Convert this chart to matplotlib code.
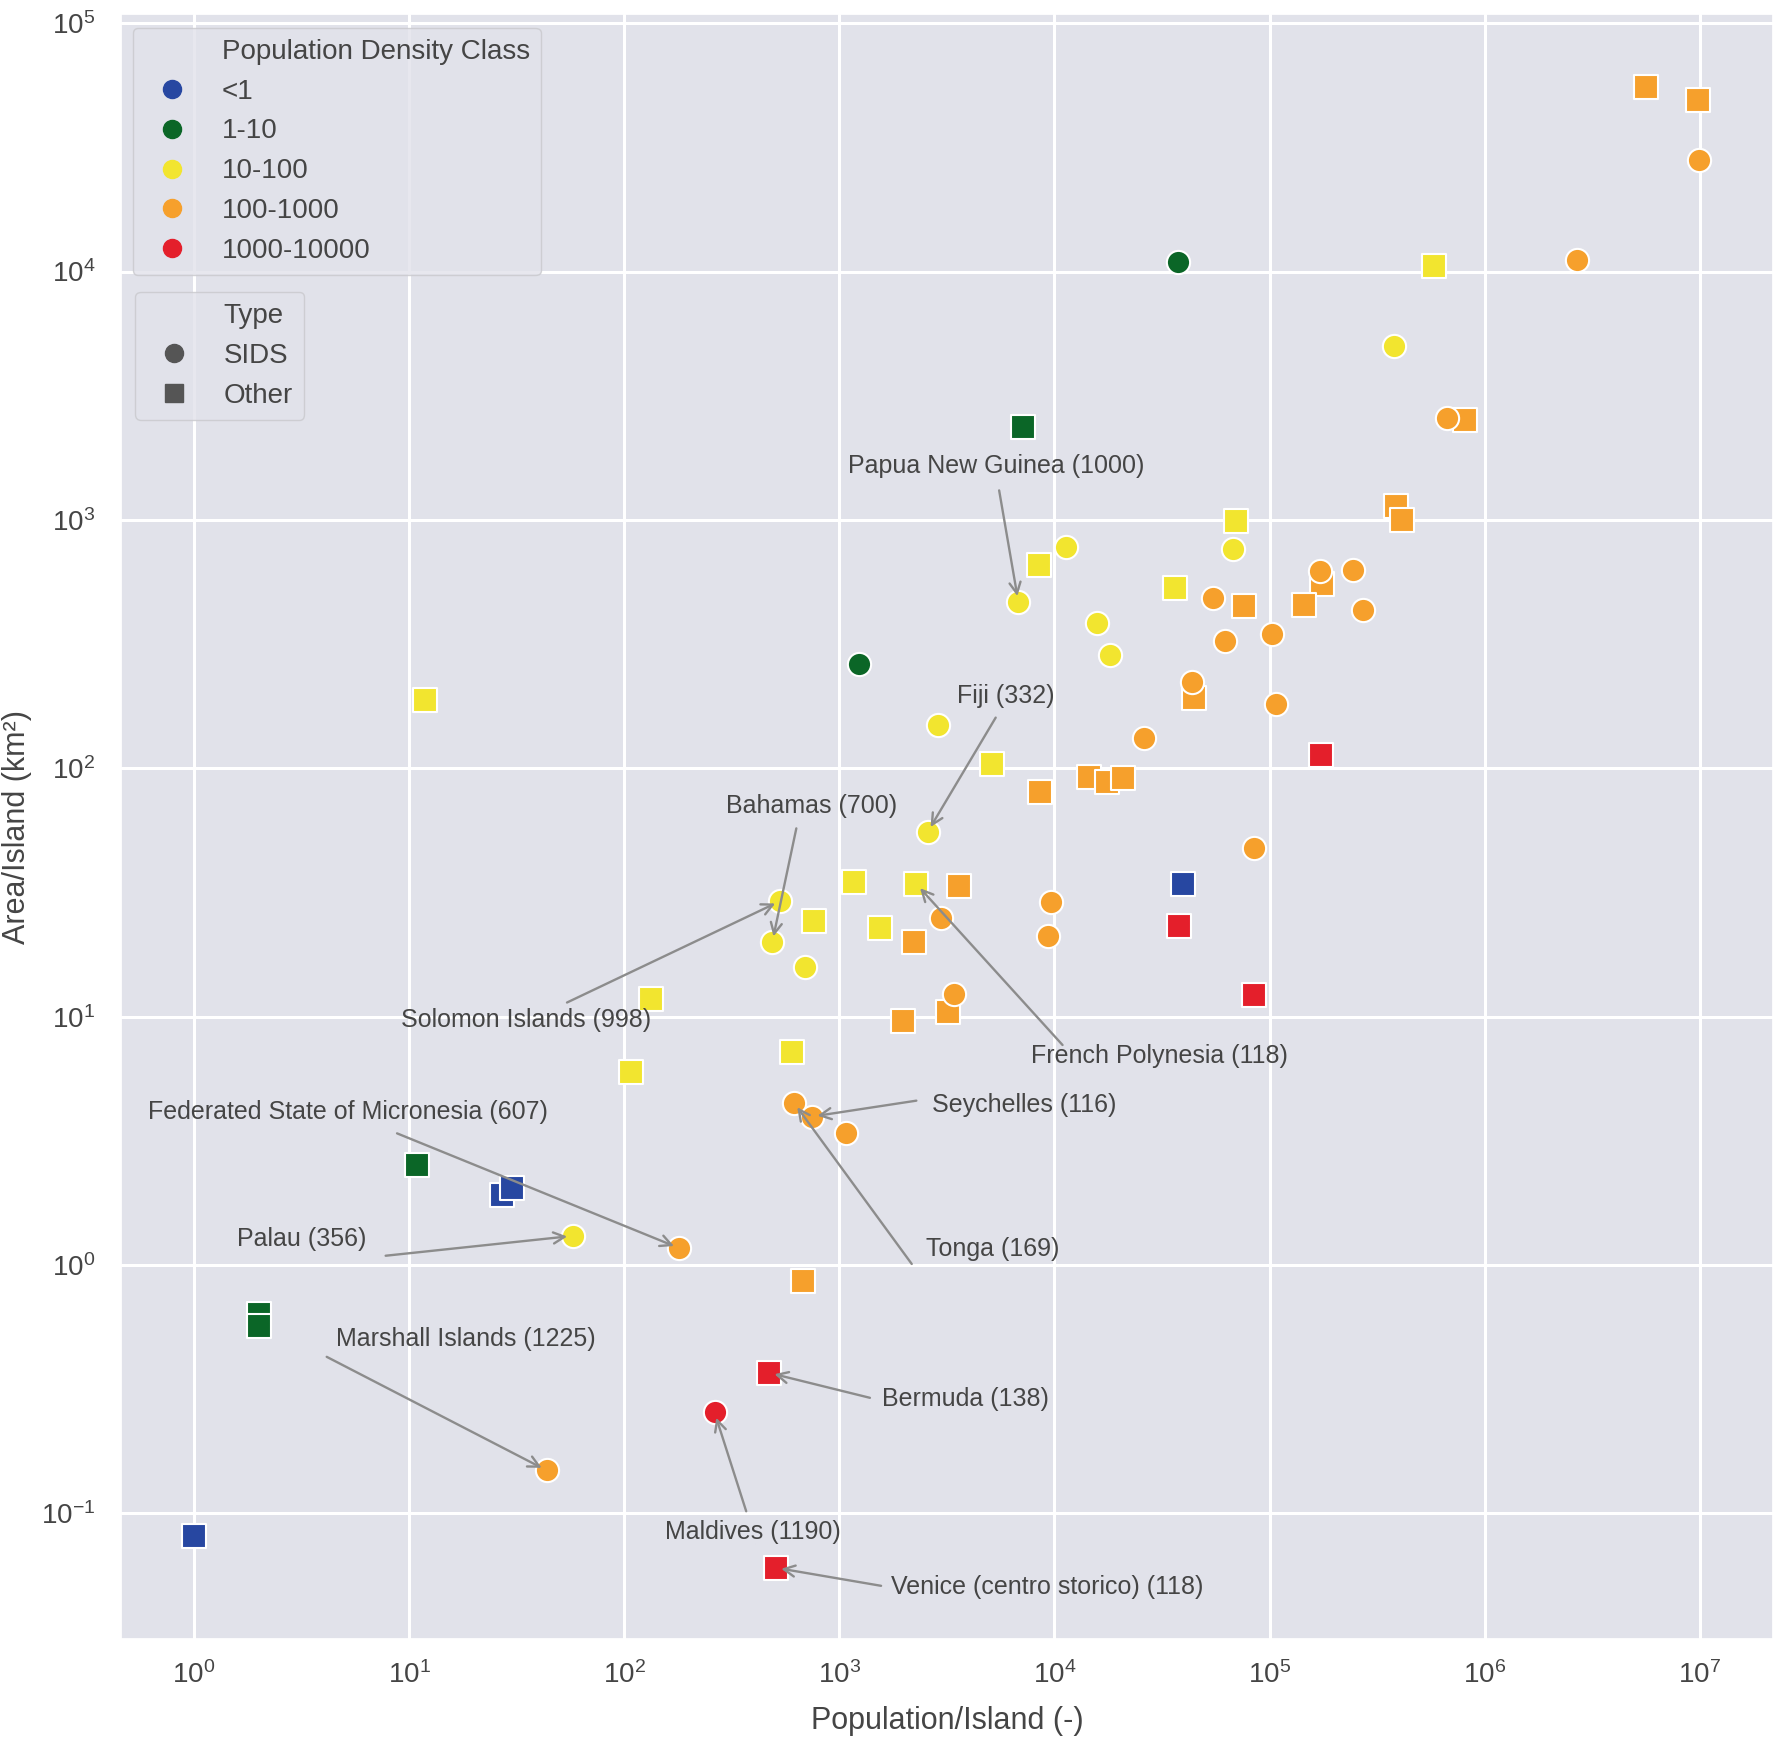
import matplotlib
matplotlib.use("Agg")
import matplotlib.pyplot as plt
import seaborn as sns
from matplotlib.lines import Line2D
from matplotlib.ticker import NullLocator

sns.set_theme(style="darkgrid")
plt.rcParams['font.family'] = ['Liberation Sans', 'DejaVu Sans']
txt_col = '#454545'
bg_col = '#e1e2ea'
plt.rcParams['text.color'] = txt_col
plt.rcParams['axes.labelcolor'] = txt_col
plt.rcParams['xtick.color'] = txt_col
plt.rcParams['ytick.color'] = txt_col

# population per island, area per island (km2), density class, type
pop = [1, 27, 30, 39500,
       37700, 7130, 1228, 10.9, 2.0, 2.0,
       11.9, 133, 107, 600, 765, 1170, 1546, 2279, 5140, 8450, 36300, 69900, 578000,
       57.6, 531, 488, 694, 2575, 2870, 6790, 11320, 15700, 18160, 67400, 377000,
       5.59e6, 9.78e6, 811000, 387000, 411000, 176000, 145000, 76100, 44600, 14400,
       17500, 20800, 8560, 3615, 2224, 3200, 1972, 677,
       9.89e6, 2.67e6, 668000, 172000, 244000, 272000, 54800, 61900, 103000, 43500,
       107000, 26200, 84900, 9670, 9310, 2980, 3404, 615, 746, 1075, 180, 43.6,
       174000, 38100, 84900, 471, 506, 263]
area = [0.081, 1.92, 2.05, 34.2,
        10880, 2366, 263, 2.52, 0.637, 0.566,
        188, 11.8, 5.97, 7.2, 24.2, 34.9, 22.7, 34.2, 104, 656, 532, 988, 10540,
        1.31, 29.2, 20.0, 15.9, 55.5, 149, 469, 776, 384, 286, 761, 5000,
        55500, 48900, 2523, 1135, 1000, 554, 455, 450, 192, 91.9,
        88, 91, 80.2, 33.5, 20, 10.4, 9.6, 0.863,
        28000, 11100, 2577, 624, 630, 435, 484, 324, 346, 222,
        182, 132, 47.9, 28.9, 21.1, 24.9, 12.3, 4.5, 3.96, 3.39, 1.17, 0.149,
        113, 23.2, 12.2, 0.368, 0.0604, 0.255]
dens = (['<1'] * 4 + ['1-10'] * 6 + ['10-100'] * 25 + ['100-1000'] * 40
        + ['1000-10000'] * 6)
kind = (['Other'] * 4
        + ['SIDS', 'Other', 'SIDS', 'Other', 'Other', 'Other']
        + ['Other'] * 13 + ['SIDS'] * 12
        + ['Other'] * 18 + ['SIDS'] * 22
        + ['Other'] * 5 + ['SIDS'])

classes = ['<1', '1-10', '10-100', '100-1000', '1000-10000']
class_colors = ['#2747a1', '#0b6627', '#f2e52f', '#f6a02c', '#e41f2b']
types = ['SIDS', 'Other']
type_markers = ['o', 's']

# annotations: label, index of annotated point, text centre, arrow start (data coords)
ann_labels = ['Papua New Guinea (1000)', 'Fiji (332)', 'Bahamas (700)',
              'Solomon Islands (998)', 'French Polynesia (118)', 'Seychelles (116)',
              'Tonga (169)', 'Federated State of Micronesia (607)', 'Palau (356)',
              'Marshall Islands (1225)', 'Bermuda (138)', 'Maldives (1190)',
              'Venice (centro storico) (118)']
ann_idx = [29, 27, 25, 24, 17, 71, 70, 73, 23, 74, 78, 80, 79]
ann_tx = [5330, 5950, 746, 35, 30600, 7220, 5140, 5.21, 3.17, 18.4, 3845, 397, 9200]
ann_ty = [1656, 196, 70.6, 9.68, 6.92, 4.41, 1.16, 4.13, 1.27, 0.505, 0.289, 0.0845, 0.0505]
arr_x = [5530, 5330, 631, 54.2, 10900, 2280, 2170, 8.79, 7.78, 4.14, 1387, 369, 1563]
arr_y = [1315, 160, 57.3, 11.4, 7.69, 4.59, 1.01, 3.39, 1.09, 0.427, 0.292, 0.102, 0.0511]

col_of = dict(zip(classes, class_colors))
mk_of = dict(zip(types, type_markers))

fig = plt.figure(figsize=(17.75, 17.37), dpi=100)
ax = fig.add_axes([0.0684, 0.0562, 0.9303, 0.9358])
ax.set_facecolor(bg_col)
ax.set_xscale('log')
ax.set_yscale('log')

for x, y, d, k in zip(pop, area, dens, kind):
    ax.scatter([x], [y], s=280, c=col_of[d], marker=mk_of[k],
               edgecolors='white', linewidths=1.5, zorder=3)

for lab, i, tx, ty, sx, sy in zip(ann_labels, ann_idx, ann_tx, ann_ty, arr_x, arr_y):
    ax.text(tx, ty, lab, ha='center', va='center', fontsize=18, color=txt_col, zorder=4)
    ax.annotate('', xy=(pop[i], area[i]), xytext=(sx, sy), textcoords='data', zorder=4,
                arrowprops=dict(arrowstyle='->', color='#8c8c8c', lw=1.7,
                                shrinkA=0, shrinkB=4, mutation_scale=20))

ax.set_xlim(0.46, 2.18e7)
ax.set_ylim(0.0311, 1.09e5)
ax.xaxis.set_minor_locator(NullLocator())
ax.yaxis.set_minor_locator(NullLocator())
ax.grid(True, which='major', color='white', linewidth=2.2)
ax.tick_params(axis='both', which='both', length=0, labelsize=20)
ax.tick_params(axis='x', pad=16)
ax.tick_params(axis='y', pad=19)
ax.set_xlabel('Population/Island (-)', fontsize=22, labelpad=12)
ax.set_ylabel('Area/Island (km²)', fontsize=22, labelpad=6)

h1 = [Line2D([], [], linestyle='none', marker='')]
h1 += [Line2D([], [], linestyle='none', marker='o', markersize=13,
              markerfacecolor=c, markeredgecolor=c) for c in class_colors]
leg1 = ax.legend(h1, ['Population Density Class'] + classes, loc='upper left',
                 bbox_to_anchor=(0.0069, 0.9916), borderaxespad=0, fontsize=20,
                 labelspacing=0.5, handletextpad=0.8, framealpha=0.8,
                 facecolor=bg_col, edgecolor='#c8c8cc')
ax.add_artist(leg1)
h2 = [Line2D([], [], linestyle='none', marker='')]
h2 += [Line2D([], [], linestyle='none', marker=m, markersize=13,
              markerfacecolor='#555555', markeredgecolor='#555555') for m in type_markers]
ax.legend(h2, ['Type'] + types, loc='upper left', bbox_to_anchor=(0.0082, 0.829),
          borderaxespad=0, fontsize=20, labelspacing=0.5, handletextpad=0.8,
          framealpha=0.8, facecolor=bg_col, edgecolor='#c8c8cc')

fig.savefig('out.png', dpi=100)
